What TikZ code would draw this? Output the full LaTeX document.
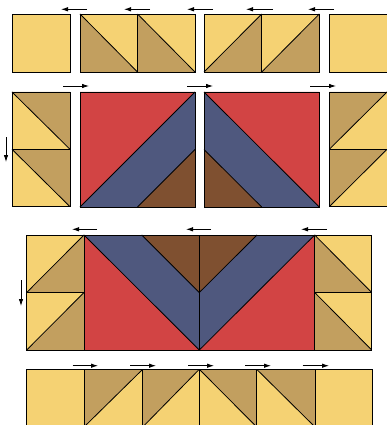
\documentclass[tikz,border=0pt]{standalone}
\usetikzlibrary{arrows.meta}
\definecolor{qyel}{HTML}{F5D273}
\definecolor{qtan}{HTML}{C29F5F}
\definecolor{qred}{HTML}{D24444}
\definecolor{qblue}{HTML}{4F587E}
\definecolor{qbrown}{HTML}{7F5030}
\tikzset{
  ln/.style={black, line width=0.8pt, line join=miter},
  arr/.style={black, line width=0.8pt, -{Latex[length=7pt,width=4.5pt]}},
}
% plain square
\newcommand\qSQ[4]{\fill[qyel] (#1,#2) rectangle (#3,#4); \draw[ln] (#1,#2) rectangle (#3,#4);}
% half-square triangles: tan triangle at given corner
\newcommand\qBL[4]{\fill[qyel] (#1,#2) rectangle (#3,#4);
  \fill[qtan] (#1,#2) -- (#1,#4) -- (#3,#4) -- cycle;
  \draw[ln] (#1,#2) -- (#3,#4); \draw[ln] (#1,#2) rectangle (#3,#4);}
\newcommand\qBR[4]{\fill[qyel] (#1,#2) rectangle (#3,#4);
  \fill[qtan] (#3,#2) -- (#3,#4) -- (#1,#4) -- cycle;
  \draw[ln] (#1,#4) -- (#3,#2); \draw[ln] (#1,#2) rectangle (#3,#4);}
\newcommand\qTL[4]{\fill[qyel] (#1,#2) rectangle (#3,#4);
  \fill[qtan] (#1,#4) -- (#1,#2) -- (#3,#2) -- cycle;
  \draw[ln] (#1,#4) -- (#3,#2); \draw[ln] (#1,#2) rectangle (#3,#4);}
\newcommand\qTR[4]{\fill[qyel] (#1,#2) rectangle (#3,#4);
  \fill[qtan] (#1,#2) -- (#3,#2) -- (#3,#4) -- cycle;
  \draw[ln] (#1,#2) -- (#3,#4); \draw[ln] (#1,#2) rectangle (#3,#4);}
\begin{document}
\begin{tikzpicture}[x=1pt,y=-1pt]
\useasboundingbox (0,0) rectangle (386,425);
\fill[white] (0,0) rectangle (386,425);

% ---------- Row 1 ----------
\qSQ{12}{14}{70}{72}
\qBL{80}{14}{137.5}{72}
\qBL{137.5}{14}{195}{72}
\qBR{204}{14}{261.7}{72}
\qBR{261.7}{14}{319.3}{72}
\qSQ{329.3}{14}{387}{72}
\draw[arr] (87,9.3) -- (61,9.3);
\draw[arr] (150,9.3) -- (124,9.3);
\draw[arr] (213,9.3) -- (187,9.3);
\draw[arr] (273,9.3) -- (246,9.3);
\draw[arr] (334,9.3) -- (308,9.3);

% ---------- Row 2 ----------
\qTR{12}{92}{70}{149.3}
\qTR{12}{149.3}{70}{206.7}
% left big block
\fill[qred] (80,92) -- (195,92) -- (80,207) -- cycle;
\fill[qblue] (195,92) -- (195,149.5) -- (137.5,207) -- (80,207) -- cycle;
\fill[qbrown] (195,149.5) -- (195,207) -- (137.5,207) -- cycle;
\draw[ln] (80,207) -- (195,92);
\draw[ln] (137.5,207) -- (195,149.5);
\draw[ln] (80,92) rectangle (195,207);
% right big block
\fill[qred] (204,92) -- (319.3,92) -- (319.3,207) -- cycle;
\fill[qblue] (204,92) -- (319.3,207) -- (261.7,207) -- (204,149.5) -- cycle;
\fill[qbrown] (204,149.5) -- (261.7,207) -- (204,207) -- cycle;
\draw[ln] (204,92) -- (319.3,207);
\draw[ln] (204,149.5) -- (261.7,207);
\draw[ln] (204,92) rectangle (319.3,207);
\qTL{329.3}{92}{387}{149.3}
\qTL{329.3}{149.3}{387}{206.7}
\draw[arr] (63,86) -- (89,86);
\draw[arr] (187,86) -- (213,86);
\draw[arr] (310,86) -- (336,86);
\draw[arr] (6,137) -- (6,162);

% ---------- Row 3 ----------
\qBR{26.7}{235}{84}{292.5}
\qBR{26.7}{292.5}{84}{350}
% big block
\fill[qred] (84,235) -- (84,350) -- (199.3,350) -- cycle;
\fill[qblue] (84,235) -- (141.7,235) -- (199.3,292.5) -- (199.3,350) -- cycle;
\fill[qbrown] (141.7,235) -- (199.3,235) -- (199.3,292.5) -- cycle;
\fill[qred] (314.7,235) -- (314.7,350) -- (199.3,350) -- cycle;
\fill[qblue] (314.7,235) -- (257,235) -- (199.3,292.5) -- (199.3,350) -- cycle;
\fill[qbrown] (257,235) -- (199.3,235) -- (199.3,292.5) -- cycle;
\draw[ln] (84,235) -- (199.3,350) -- (314.7,235);
\draw[ln] (141.7,235) -- (199.3,292.5) -- (257,235);
\draw[ln] (199.3,235) -- (199.3,350);
\draw[ln] (84,235) rectangle (314.7,350);
\qBL{314.7}{235}{371.7}{292.5}
\qBL{314.7}{292.5}{371.7}{350}
\draw[arr] (97,229.3) -- (72,229.3);
\draw[arr] (211,229.3) -- (186,229.3);
\draw[arr] (327,229.3) -- (301,229.3);
\draw[arr] (21,280) -- (21,306);

% ---------- Row 4 ----------
\qSQ{26.7}{369.3}{84}{427}
\qTL{84}{369.3}{142.7}{427}
\qTL{142.7}{369.3}{199.3}{427}
\qTR{199.3}{369.3}{256.7}{427}
\qTR{256.7}{369.3}{315}{427}
\qSQ{315}{369.3}{372.3}{427}
\draw[arr] (72.7,365.7) -- (98,365.7);
\draw[arr] (130,365.7) -- (156,365.7);
\draw[arr] (188.3,365.7) -- (214,365.7);
\draw[arr] (245,365.7) -- (271,365.7);
\draw[arr] (302.7,365.7) -- (329,365.7);
\end{tikzpicture}
\end{document}
